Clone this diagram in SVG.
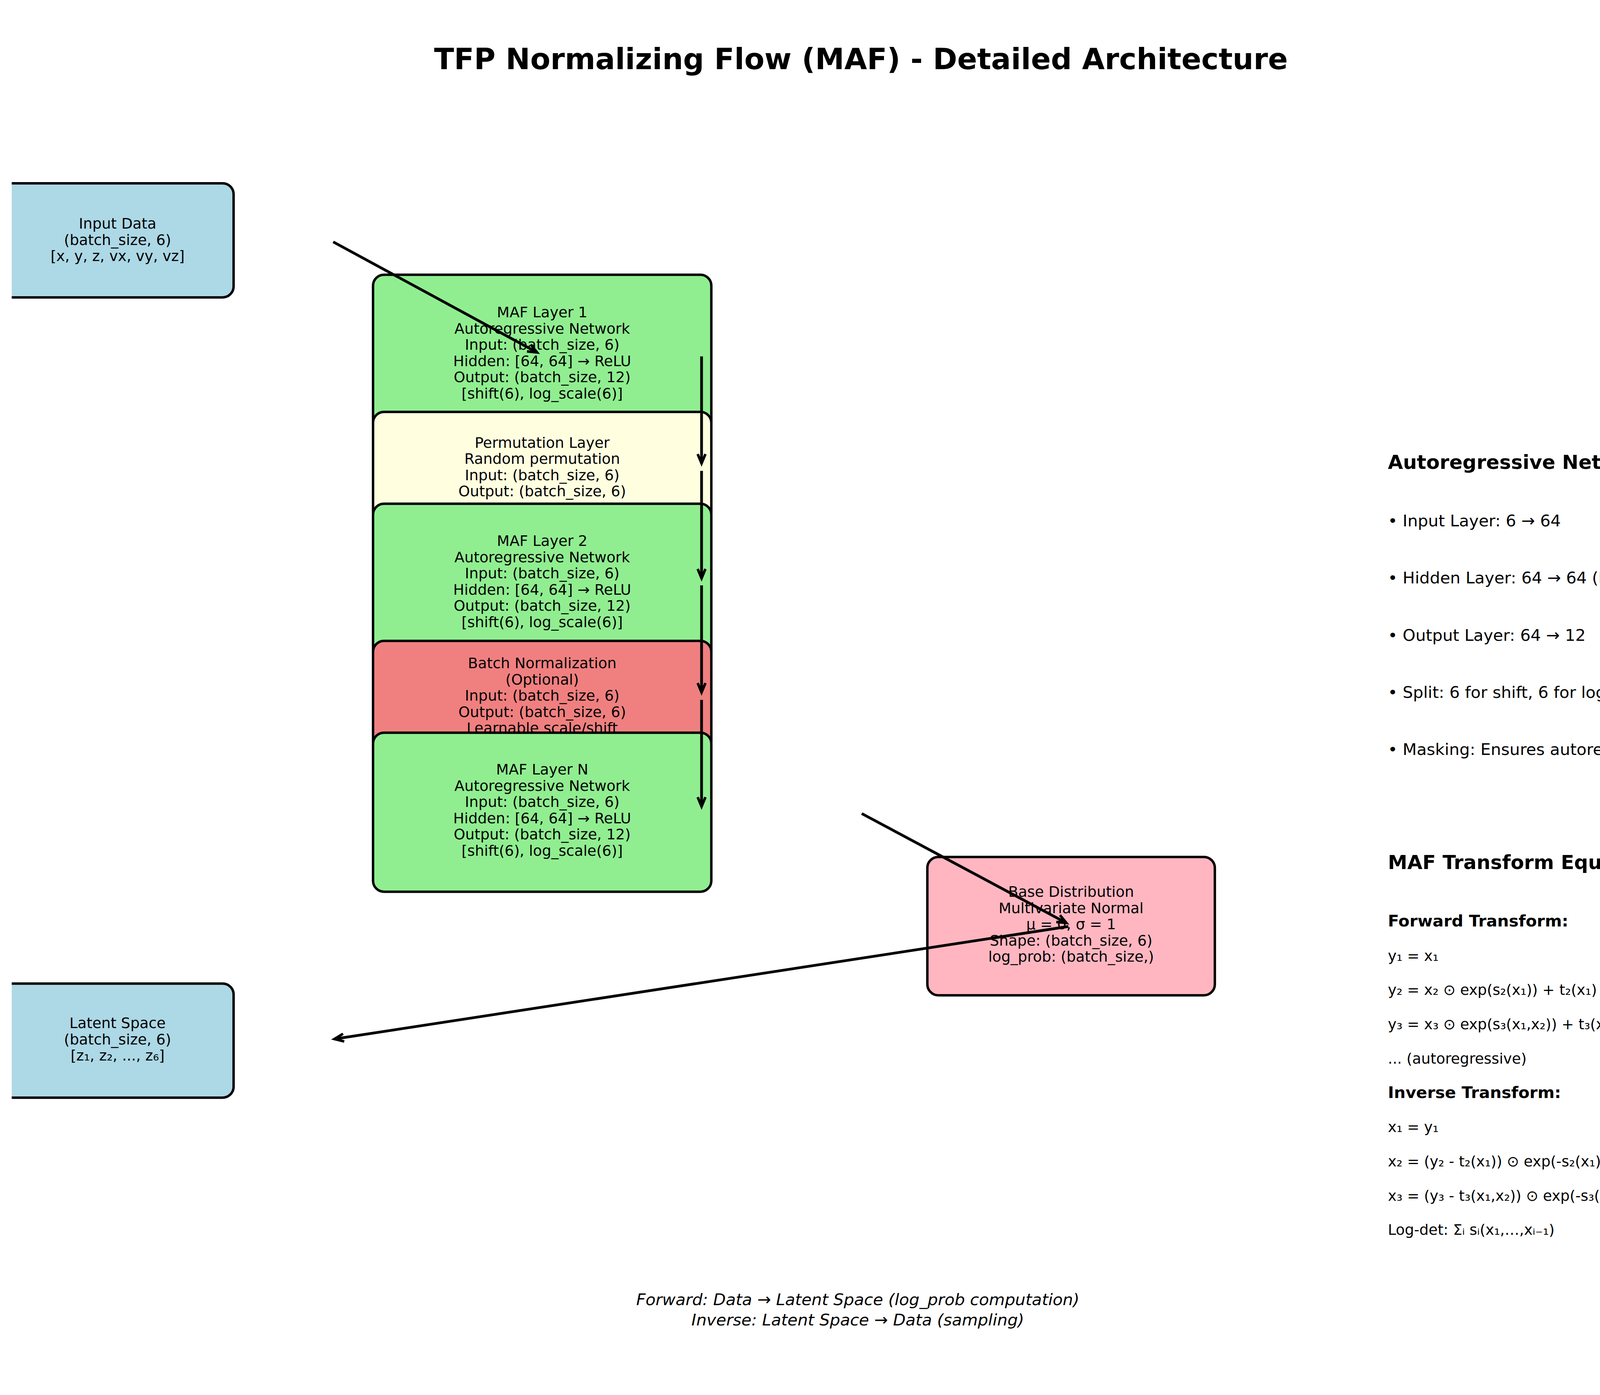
<svg xmlns="http://www.w3.org/2000/svg" width="4655" height="3570" viewBox="0 0 4655 3570">
<style>
text { font-family: "DejaVu Sans", "Liberation Sans", sans-serif; fill: #000; }
.box { stroke: #000; stroke-width: 6.25; }
.bt { font-size: 37.5px; text-anchor: middle; }
.title { font-size: 75px; font-weight: bold; text-anchor: middle; }
.h1 { font-size: 50px; font-weight: bold; }
.h2 { font-size: 41.7px; font-weight: bold; }
.bul { font-size: 41.7px; }
.eq { font-size: 37.5px; }
.foot { font-size: 41.7px; font-style: italic; text-anchor: middle; }
.conn { stroke: #000; stroke-width: 7; fill: none; marker-end: url(#ah); }
</style>
<defs>
<marker id="ah" markerUnits="userSpaceOnUse" markerWidth="60" markerHeight="60" refX="0" refY="0" orient="auto" overflow="visible">
<path d="M-24,-10 L0,0 L-24,10" fill="none" stroke="#000" stroke-width="6.5" stroke-linejoin="miter"/>
</marker>
<clipPath id="clipL"><rect x="30" y="0" width="4625" height="3570"/></clipPath>
</defs>
<rect width="4655" height="3570" fill="#fff"/>

<text class="title" x="2204" y="177">TFP Normalizing Flow (MAF) - Detailed Architecture</text>

<g id="input">
<rect class="box" clip-path="url(#clipL)" x="2" y="469" width="596" height="292" rx="28" fill="#ADD8E6"/>
<text class="bt" x="301" y="585">Input Data</text>
<text class="bt" x="301" y="627">(batch_size, 6)</text>
<text class="bt" x="301" y="668">[x, y, z, vx, vy, vz]</text>
</g>

<g id="maf1">
<rect class="box" x="955" y="703" width="866" height="407" rx="28" fill="#90EE90"/>
<text class="bt" x="1388" y="812">MAF Layer 1</text>
<text class="bt" x="1388" y="853.6">Autoregressive Network</text>
<text class="bt" x="1388" y="895.2">Input: (batch_size, 6)</text>
<text class="bt" x="1388" y="936.8">Hidden: [64, 64] → ReLU</text>
<text class="bt" x="1388" y="978.4">Output: (batch_size, 12)</text>
<text class="bt" x="1388" y="1020">[shift(6), log_scale(6)]</text>
</g>

<g id="perm">
<rect class="box" x="955" y="1054" width="866" height="286" rx="28" fill="#FFFFE0"/>
<text class="bt" x="1388" y="1145.5">Permutation Layer</text>
<text class="bt" x="1388" y="1187.1">Random permutation</text>
<text class="bt" x="1388" y="1228.7">Input: (batch_size, 6)</text>
<text class="bt" x="1388" y="1270.3">Output: (batch_size, 6)</text>
</g>

<g id="maf2">
<rect class="box" x="955" y="1289" width="866" height="407" rx="28" fill="#90EE90"/>
<text class="bt" x="1388" y="1397">MAF Layer 2</text>
<text class="bt" x="1388" y="1438.6">Autoregressive Network</text>
<text class="bt" x="1388" y="1480.2">Input: (batch_size, 6)</text>
<text class="bt" x="1388" y="1521.8">Hidden: [64, 64] → ReLU</text>
<text class="bt" x="1388" y="1563.4">Output: (batch_size, 12)</text>
<text class="bt" x="1388" y="1605">[shift(6), log_scale(6)]</text>
</g>

<g id="bn">
<rect class="box" x="955" y="1640" width="866" height="286" rx="28" fill="#F08080"/>
<text class="bt" x="1388" y="1710">Batch Normalization</text>
<text class="bt" x="1388" y="1751.6">(Optional)</text>
<text class="bt" x="1388" y="1793.2">Input: (batch_size, 6)</text>
<text class="bt" x="1388" y="1834.8">Output: (batch_size, 6)</text>
<text class="bt" x="1388" y="1876.4">Learnable scale/shift</text>
</g>

<g id="mafn">
<rect class="box" x="955" y="1875" width="866" height="407" rx="28" fill="#90EE90"/>
<text class="bt" x="1388" y="1982">MAF Layer N</text>
<text class="bt" x="1388" y="2023.6">Autoregressive Network</text>
<text class="bt" x="1388" y="2065.2">Input: (batch_size, 6)</text>
<text class="bt" x="1388" y="2106.8">Hidden: [64, 64] → ReLU</text>
<text class="bt" x="1388" y="2148.4">Output: (batch_size, 12)</text>
<text class="bt" x="1388" y="2190">[shift(6), log_scale(6)]</text>
</g>

<g id="base">
<rect class="box" x="2374" y="2193" width="736" height="354" rx="28" fill="#FFB6C1"/>
<text class="bt" x="2742" y="2295">Base Distribution</text>
<text class="bt" x="2742" y="2336.6">Multivariate Normal</text>
<text class="bt" x="2742" y="2378.2">μ = 0, σ = 1</text>
<text class="bt" x="2742" y="2419.8">Shape: (batch_size, 6)</text>
<text class="bt" x="2742" y="2461.4">log_prob: (batch_size,)</text>
</g>

<g id="latent">
<rect class="box" clip-path="url(#clipL)" x="2" y="2517" width="596" height="292" rx="28" fill="#ADD8E6"/>
<text class="bt" x="301" y="2631">Latent Space</text>
<text class="bt" x="301" y="2672.6">(batch_size, 6)</text>
<text class="bt" x="301" y="2714.2">[z₁, z₂, ..., z₆]</text>
</g>

<g id="connectors">
<line class="conn" x1="853" y1="619" x2="1375" y2="902"/>
<line class="conn" x1="1796" y1="912" x2="1796" y2="1186"/>
<line class="conn" x1="1796" y1="1205" x2="1796" y2="1480"/>
<line class="conn" x1="1796" y1="1498" x2="1796" y2="1772"/>
<line class="conn" x1="1796" y1="1791" x2="1796" y2="2064"/>
<line class="conn" x1="2206" y1="2082" x2="2730" y2="2362"/>
<line class="conn" x1="2735" y1="2371" x2="856" y2="2659"/>
</g>

<g id="arch-notes">
<text class="h1" x="3553" y="1200">Autoregressive Network Architecture:</text>
<text class="bul" x="3553" y="1347">• Input Layer: 6 → 64</text>
<text class="bul" x="3553" y="1493">• Hidden Layer: 64 → 64 (ReLU)</text>
<text class="bul" x="3553" y="1640">• Output Layer: 64 → 12</text>
<text class="bul" x="3553" y="1786">• Split: 6 for shift, 6 for log_scale</text>
<text class="bul" x="3553" y="1932">• Masking: Ensures autoregressive property</text>
</g>

<g id="equations">
<text class="h1" x="3553" y="2224">MAF Transform Equations:</text>
<text class="h2" x="3553" y="2371">Forward Transform:</text>
<text class="eq" x="3553" y="2459">y₁ = x₁</text>
<text class="eq" x="3553" y="2546">y₂ = x₂ ⊙ exp(s₂(x₁)) + t₂(x₁)</text>
<text class="eq" x="3553" y="2634">y₃ = x₃ ⊙ exp(s₃(x₁,x₂)) + t₃(x₁,x₂)</text>
<text class="eq" x="3553" y="2722">... (autoregressive)</text>
<text class="h2" x="3553" y="2810">Inverse Transform:</text>
<text class="eq" x="3553" y="2897">x₁ = y₁</text>
<text class="eq" x="3553" y="2985">x₂ = (y₂ - t₂(x₁)) ⊙ exp(-s₂(x₁))</text>
<text class="eq" x="3553" y="3073">x₃ = (y₃ - t₃(x₁,x₂)) ⊙ exp(-s₃(x₁,x₂))</text>
<text class="eq" x="3553" y="3160">Log-det: Σᵢ sᵢ(x₁,…,xᵢ₋₁)</text>
</g>

<text class="foot" x="2196" y="3340">Forward: Data → Latent Space (log_prob computation)</text>
<text class="foot" x="2196" y="3392">Inverse: Latent Space → Data (sampling)</text>
</svg>
